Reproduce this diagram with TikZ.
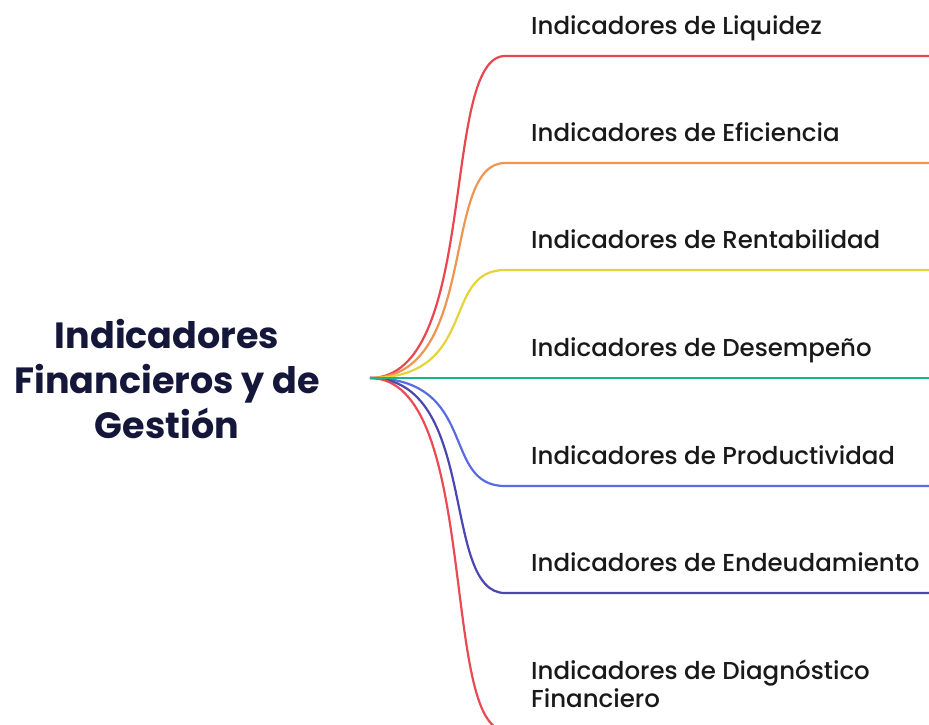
\documentclass[tikz,border=0pt]{standalone}
\usepackage{fontspec}
\setmainfont{Poppins}
\newfontfamily\medfont{Poppins Medium}
\definecolor{cRed}{HTML}{E9474F}
\definecolor{cOrange}{HTML}{F0954F}
\definecolor{cYellow}{HTML}{E6D33C}
\definecolor{cGreen}{HTML}{1BB585}
\definecolor{cBlue}{HTML}{5A6AE0}
\definecolor{cIndigo}{HTML}{4B47B0}
\definecolor{cRedB}{HTML}{EB4A55}
\definecolor{cNavy}{HTML}{14163A}
\begin{document}
\begin{tikzpicture}[x=1pt,y=-1pt,
  branch/.style={line width=2.2pt},
  lbl/.style={anchor=base west,inner sep=0pt,font=\medfont\fontsize{24.5}{28}\selectfont,text=black!90},
  title/.style={align=center,inner sep=0pt,font=\fontsize{36.5}{45}\selectfont\bfseries,text=cNavy}]
\useasboundingbox (0,0) rectangle (929,724);
\clip (0,0) rectangle (929,724);
\node[title] (root) at (167,379) {Indicadores\\Financieros y de\\Gestión};
\coordinate (o) at (370,378);
\foreach \n/\y/\c in {a/56/cRed,b/163/cOrange,c/270/cYellow,e/486/cBlue,f/593/cIndigo,g/730/cRedB}{
  \coordinate (\n s) at (505,\y);
  \coordinate (\n e) at (929,\y);
  \draw[branch,\c] (o) .. controls (480,378) and (440,\y) .. (\n s) -- (\n e);
}
\coordinate (de) at (929,378);
\draw[branch,cGreen] (o) -- (de);
\node[lbl] (ta) at (531,34) {Indicadores de Liquidez};
\node[lbl] (tb) at (531,141) {Indicadores de Eficiencia};
\node[lbl] (tc) at (531,248) {Indicadores de Rentabilidad};
\node[lbl] (td) at (531,356) {Indicadores de Desempeño};
\node[lbl] (te) at (531,464) {Indicadores de Productividad};
\node[lbl] (tf) at (531,571) {Indicadores de Endeudamiento};
\node[lbl,align=left] (tg) at (531,707) {Indicadores de Diagnóstico\\Financiero};
\end{tikzpicture}
\end{document}
